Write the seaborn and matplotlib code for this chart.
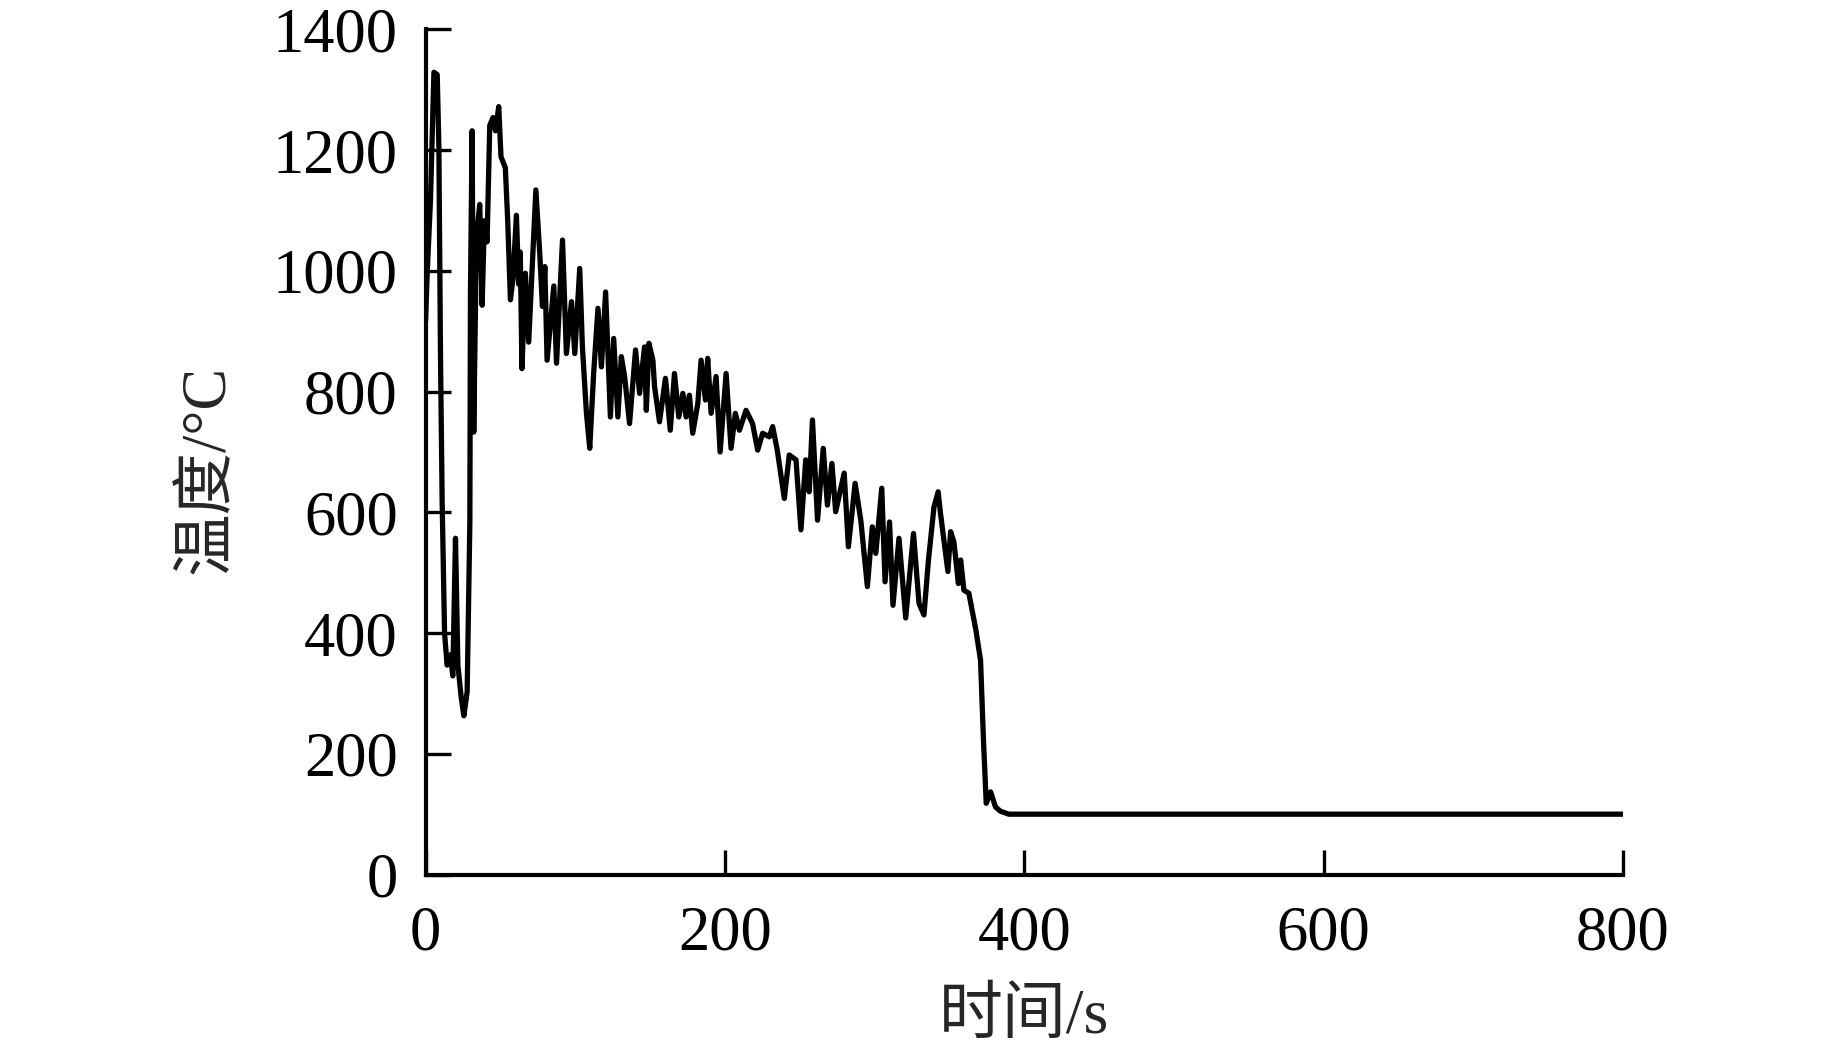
import numpy as np
import pandas as pd
import matplotlib
matplotlib.use("Agg")
import matplotlib.pyplot as plt
import seaborn as sns

# time (s) and temperature (degC)
time_s = [0, 1.1, 3.3, 5.6, 7.8, 8.9, 10, 11.1, 12.7, 14.4, 16.7, 18.2, 20, 21.6,
          23.8, 25.6, 27.8, 29.6, 30, 31.1, 32.2, 34, 36.2, 37.8, 39.3, 41.1,
          42.9, 45.1, 46.7, 48.9, 50.4, 53.3, 54.9, 56.7, 58.4, 60.7, 62.2,
          63.3, 64.4, 66.7, 68.9, 73.7, 76.3, 78.1, 79.7, 81.2, 85.7, 87.5,
          91.5, 94.1, 97.5, 99.7, 103, 104.8, 107.5, 109.7, 112.3, 115.2,
          117.5, 120.3, 123.5, 125.7, 128.5, 130.8, 133, 136.3, 140.3, 143,
          146.3, 147.5, 149.2, 151.9, 153, 156.3, 160.3, 163.5, 166.3, 169.2,
          171.9, 174.1, 176.3, 178.5, 181.9, 184.1, 187, 188.5, 190.8, 194.1,
          196.8, 200.8, 204.1, 207, 209.7, 214.1, 218.5, 221.9, 225.2, 229.7,
          231.9, 235, 239.7, 243, 247.5, 250.8, 254, 256.3, 258.5, 261.9,
          265.7, 268.5, 271.5, 274, 279.7, 282.5, 287, 290.8, 295.2, 298.5,
          300.8, 304.8, 307, 310, 312.3, 316.3, 320.8, 326, 329.7, 333, 336,
          339.7, 342.5, 344, 349, 350.8, 353, 356, 357.5, 359.7, 363, 367.7,
          370.8, 372.8, 374.6, 377.5, 380.8, 384, 389.7, 500, 650, 800]
temp_c = [917, 996, 1118, 1329, 1325, 1206, 855, 617, 400, 347, 364, 329, 557, 347,
          294, 263, 303, 583, 961, 1232, 733, 1057, 1110, 943, 1083, 1048,
          1241, 1254, 1232, 1272, 1189, 1171, 1083, 952, 987, 1092, 978,
          1031, 838, 996, 882, 1134, 1029, 941, 1007, 852, 975, 847,
          1051, 863, 949, 863, 1004, 874, 764, 706, 830, 938,
          841, 965, 758, 888, 758, 858, 825, 747, 869, 797,
          874, 769, 880, 852, 808, 750, 822, 736, 830, 758,
          797, 758, 794, 731, 780, 852, 786, 855, 764, 825,
          700, 830, 706, 764, 736, 769, 747, 703, 731, 725,
          742, 703, 623, 695, 687, 571, 687, 634, 753, 587,
          706, 612, 681, 601, 665, 543, 648, 587, 477, 576,
          532, 640, 485, 584, 446, 557, 425, 565, 449, 430, 521,
          609, 634, 599, 502, 568, 551, 482, 521, 471, 466, 405,
          355, 220, 118, 137, 112, 105, 100, 100, 100, 100]

x_ticks = [0, 200, 400, 600, 800]
y_ticks = [0, 200, 400, 600, 800, 1000, 1200, 1400]

df = pd.DataFrame({"time": time_s, "temp": temp_c})

sns.set_style("ticks")
plt.rcParams["font.family"] = ["Liberation Serif", "Noto Sans CJK SC"]

fig = plt.figure(figsize=(18.43, 10.49), dpi=100)
ax = fig.add_axes([0.2309, 0.1663, 0.6497, 0.8057])

sns.lineplot(data=df, x="time", y="temp", ax=ax, color="black",
             linewidth=3.8, sort=False, estimator=None)

ax.set_xlim(0, 800)
ax.set_ylim(0, 1400)
ax.set_xticks(x_ticks)
ax.set_yticks(y_ticks)
ax.tick_params(direction="in", length=18, width=2.4, labelsize=45,
               colors="black")
ax.tick_params(axis="x", pad=22)
ax.tick_params(axis="y", pad=20)
sns.despine(ax=ax)
for s in ["left", "bottom"]:
    ax.spines[s].set_linewidth(3)
    ax.spines[s].set_color("black")

ax.set_xlabel("时间/s", fontsize=46)
ax.set_ylabel("温度/°C", fontsize=45)
ax.xaxis.set_label_coords(0.5, -0.169)
ax.xaxis.label.set_va("center")
ax.yaxis.set_label_coords(-0.181, 0.479)
ax.yaxis.label.set_va("center")

fig.savefig("out.png", dpi=100, facecolor="white")
